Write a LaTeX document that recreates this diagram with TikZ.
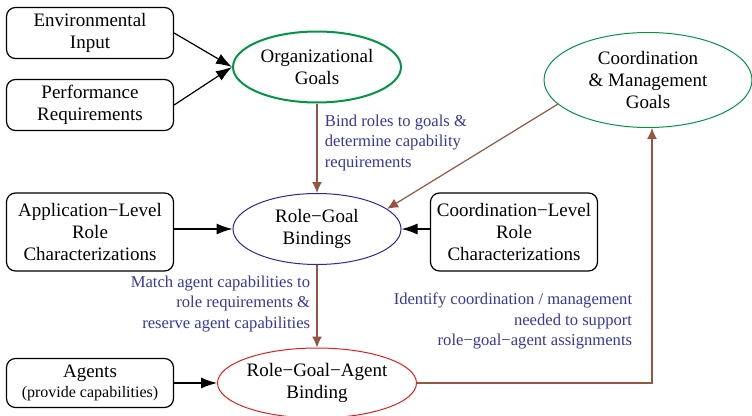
\documentclass[tikz,border=0pt]{standalone}
\usepackage{fontspec}
\setmainfont{Liberation Serif}
\usetikzlibrary{shapes.geometric, arrows.meta}

\definecolor{goalgreen}{RGB}{0,150,70}
\definecolor{bindblue}{RGB}{40,40,160}
\definecolor{agentred}{RGB}{225,30,30}
\definecolor{linkbrown}{RGB}{150,85,65}
\definecolor{notecol}{RGB}{55,55,160}

\begin{document}
\begin{tikzpicture}[
            x = 1pt, y = -1pt, % pixel grid, y downwards
            > = {Latex[length=16pt,width=11pt]}, % arrow head style
            line width = 1.2pt % line style
        ]

        \tikzstyle{every node}=[
        font = \fontsize{19}{22}\selectfont,
        align = center
        ]
        \tikzstyle{src}=[draw = black, rounded corners = 9pt, minimum width = 167pt, inner sep = 2pt]
        \tikzstyle{goal}=[ellipse, draw, inner sep = 0pt, line width = 1pt]
        \tikzstyle{note}=[font = \fontsize{16.6}{20.5}\selectfont, text = notecol]
        \tikzstyle{link}=[draw = linkbrown, -{Latex[length=11pt,width=10pt]}]

        \useasboundingbox (0,0) rectangle (752,415);

        % inputs on the left
        \node[src, minimum height = 51pt] (env) at (90,33) {Environmental\\Input};
        \node[src, minimum height = 51pt] (perf) at (90,105) {Performance\\Requirements};
        \node[src, minimum height = 78pt] (app) at (90,232) {Application−Level\\Role\\Characterizations};
        \node[src, minimum height = 49pt] (agents) at (90,383) {Agents\\[-2pt]{\fontsize{16}{18}\selectfont (provide capabilities)}};
        \node[src, minimum height = 78pt] (coordrole) at (514,232) {Coordination−Level\\Role\\Characterizations};

        % goals and bindings
        \node[goal, draw = goalgreen, line width = 2pt, minimum width = 168pt, minimum height = 71pt] (org) at (317,67) {Organizational\\Goals};
        \node[goal, draw = goalgreen, minimum width = 208pt, minimum height = 95pt] (coord) at (648,80) {Coordination\\\& Management\\Goals};
        \node[goal, draw = bindblue, minimum width = 168pt, minimum height = 71pt] (rg) at (317,229) {Role−Goal\\Bindings};
        \node[goal, draw = agentred, minimum width = 191pt, minimum height = 70pt] (rga) at (317,383) {Role−Goal−Agent\\Binding};

        % notes
        \node[note, anchor = west, align = left] (bindnote) at (321,143) {Bind roles to goals \&\\determine capability\\requirements};
        \node[note, anchor = east, align = right] (matchnote) at (314,304) {Match agent capabilities to\\role requirements \&\\reserve agent capabilities};
        \node[note, anchor = east, align = right] (identnote) at (636,321) {Identify coordination / management\\needed to support\\role−goal−agent assignments};

        \path[->] (env.east) edge (org.west);
        \path[->] (perf.east) edge (org.west);
        \path[->] (app.east |- rg.west) edge (rg.west);
        \path[->] (coordrole.west |- rg.east) edge (rg.east);
        \path[->] (agents) edge (rga);

        \draw[link] (org) -- (rg);
        \draw[link] (rg) -- (rga);
        \draw[link] (coord.195) -- (rg.16);
        \draw[link] (rga.east) -| ([xshift=4pt]coord.south);
    \end{tikzpicture}
\end{document}
